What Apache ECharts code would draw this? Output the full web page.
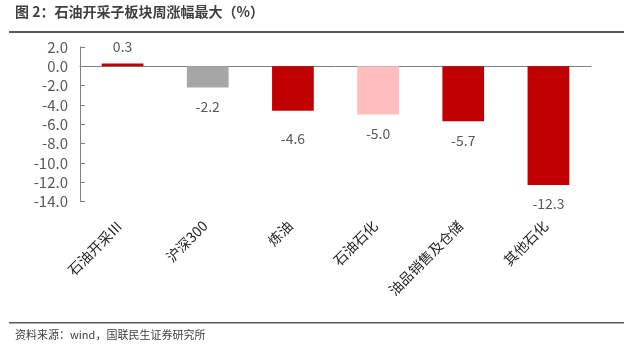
<!DOCTYPE html>
<html><head><meta charset="utf-8">
<script src="https://cdn.jsdelivr.net/npm/echarts@6/dist/echarts.min.js"></script>
<style>html,body{margin:0;padding:0;background:#fff}#c{width:636px;height:358px}</style>
</head><body><div id="c"></div>
<script>
const categories = ['石油开采Ⅲ', '沪深300', '炼油', '石油石化', '油品销售及仓储', '其他石化'];
const values = [0.3, -2.2, -4.6, -5.0, -5.7, -12.3];
const barColors = ['#C00000', '#A6A6A6', '#C00000', '#FFBDBD', '#C00000', '#C00000'];
const yTicks = { min: -14, max: 2, interval: 2 };
const titleText = '图 2：石油开采子板块周涨幅最大（%）';
const sourceText = '资料来源：wind，国联民生证券研究所';

const chart = echarts.init(document.getElementById('c'));
const font = '"Noto Sans CJK SC", "Microsoft YaHei", sans-serif';
const labelDist = v => (v >= 0 ? 10 : (v === -4.6 ? 21 : 12));
chart.setOption({
  animation: false,
  textStyle: { fontFamily: font },
  grid: { left: 80, right: 45, top: 47, bottom: 156.5, containLabel: false },
  graphic: [
    { type: 'text', left: 15, top: 5, style: { text: titleText, font: 'bold 14px ' + font, fill: '#404040' } },
    { type: 'rect', shape: { x: 9, y: 31, width: 615, height: 2 }, style: { fill: '#595959' } },
    { type: 'rect', shape: { x: 9, y: 322, width: 615, height: 1.5 }, style: { fill: '#595959' } },
    { type: 'text', left: 15, top: 329, style: { text: sourceText, font: '11px ' + font, fill: '#404040' } }
  ],
  xAxis: [
    {
      type: 'category', data: categories, position: 'bottom',
      axisLine: { show: false, onZero: false }, axisTick: { show: false },
      axisLabel: { rotate: 45, margin: 19, padding: [0, 4, 0, 0], fontSize: 14, color: '#262626', interval: 0, fontFamily: font }
    },
    {
      type: 'category', data: categories, position: 'bottom',
      axisLine: { show: true, onZero: true, lineStyle: { color: '#808080', width: 1 } },
      axisTick: { show: false }, axisLabel: { show: false }
    }
  ],
  yAxis: {
    type: 'value', min: yTicks.min, max: yTicks.max, interval: yTicks.interval,
    axisLine: { show: true, lineStyle: { color: '#808080' } },
    axisTick: { show: true, inside: true, length: 5, lineStyle: { color: '#808080' } },
    splitLine: { show: false },
    axisLabel: { fontSize: 15, color: '#595959', margin: 12, formatter: v => v.toFixed(1), fontFamily: font }
  },
  series: [{
    type: 'bar', xAxisIndex: 0, barWidth: '49%',
    data: values.map((v, i) => ({
      value: v, itemStyle: { color: barColors[i] },
      label: { position: v < 0 ? 'bottom' : 'top', distance: labelDist(v) }
    })),
    label: {
      show: true, fontSize: 14, color: '#595959',
      formatter: p => p.value.toFixed(1)
    }
  }]
});
</script></body></html>
